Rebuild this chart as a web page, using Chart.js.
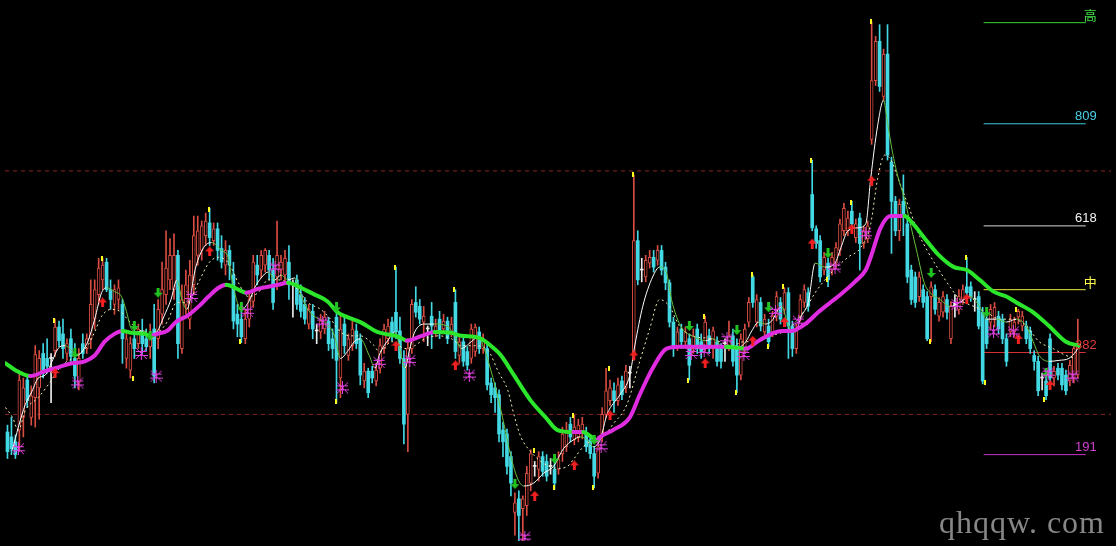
<!DOCTYPE html>
<html>
<head>
<meta charset="utf-8">
<script src="https://cdn.jsdelivr.net/npm/chart.js@4.4.1/dist/chart.umd.min.js"></script>
<style>
  html, body { margin: 0; padding: 0; background: #000; overflow: hidden; }
  canvas { display: block; background: #000; }
</style>
</head>
<body>
<canvas id="kline" width="1116" height="546"></canvas>
<script>
// ─── 행 데이터: 봉 인덱스 0..270 ───
const opens = [
  165,160,155,167,180,218,180,200,210,245,
  240,240,248,272,265,245,260,240,215,255,
  250,260,280,305,320,338,310,295,300,295,
  240,228,260,255,265,260,252,270,260,285,
  305,320,310,345,250,295,280,315,345,350,
  365,378,360,372,352,335,350,325,285,280,
  260,280,298,335,330,335,345,330,323,330,
  325,338,315,320,305,295,275,288,268,267,
  270,278,260,282,220,275,243,253,268,260,
  217,227,227,217,230,250,260,277,287,268,
  240,183,250,297,293,277,270,283,267,280,
  270,278,267,297,243,257,247,240,247,267,
  250,250,215,210,203,167,163,140,83,97,
  87,90,113,130,127,140,135,130,127,127,
  143,150,173,157,160,163,163,157,143,123,
  163,183,197,207,197,217,210,225,243,360,
  330,323,337,343,340,350,333,317,277,253,
  270,257,260,250,270,257,253,263,250,257,
  250,255,253,263,253,223,250,277,323,277,
  297,267,273,267,283,297,290,307,273,250,
  283,297,307,407,372,360,330,337,330,337,
  350,370,370,390,363,383,357,362,463,523,
  563,507,550,440,400,370,400,377,330,323,
  303,310,303,303,310,283,287,300,260,295,
  290,300,313,313,300,303,287,280,277,280,
  283,280,260,267,267,282,273,273,268,243,
  237,220,217,260,220,230,230,223,217,220,
  223
];
const highs = [
  172,180,162,225,220,222,212,253,248,255,
  260,245,280,278,280,260,270,255,250,265,
  265,320,320,342,342,342,320,315,320,300,
  265,262,270,275,280,270,275,295,300,338,
  370,362,367,350,315,330,340,385,385,380,
  388,393,378,378,365,360,355,338,295,295,
  290,308,345,345,350,352,350,342,380,345,
  350,355,320,325,315,302,295,295,275,285,
  288,282,270,290,285,282,265,278,275,265,
  235,230,232,235,260,275,280,282,333,282,
  248,260,300,313,300,293,273,297,280,288,
  285,282,282,310,262,262,252,275,275,272,
  265,255,220,215,208,175,168,145,103,105,
  100,130,147,135,145,145,142,138,135,145,
  170,175,180,182,178,180,170,162,150,160,
  190,230,218,215,220,222,233,232,427,370,
  342,345,350,350,355,355,338,320,282,272,
  275,272,265,270,275,265,283,270,272,262,
  255,260,278,270,260,265,275,302,325,305,
  302,285,280,288,308,302,312,312,278,275,
  305,315,312,442,375,365,348,342,348,358,
  382,398,390,400,382,388,375,380,583,568,
  580,555,580,445,405,402,427,382,335,328,
  328,315,308,318,315,302,308,305,298,305,
  310,315,343,318,308,308,292,285,295,297,
  288,285,265,285,282,290,288,278,272,248,
  242,225,222,265,232,235,235,228,238,255,
  280
];
const lows = [
  138,142,138,145,160,190,172,170,178,220,
  225,195,242,252,240,238,235,210,208,240,
  245,250,270,295,310,308,290,285,290,235,
  230,220,240,250,245,248,240,215,250,275,
  295,310,300,240,245,285,270,305,335,340,
  355,355,355,340,332,325,320,270,262,256,
  255,272,292,315,322,328,320,290,310,320,
  315,300,282,290,282,275,270,260,255,260,
  265,248,240,195,200,245,238,248,250,213,
  210,200,215,212,225,245,255,258,260,235,
  153,145,245,282,275,257,253,250,262,260,
  265,255,262,240,235,232,228,235,242,245,
  245,208,195,185,155,140,122,100,60,54,
  54,80,105,120,115,120,115,122,107,122,
  135,145,155,152,155,158,145,138,108,118,
  155,180,192,185,192,198,205,210,238,315,
  318,318,332,328,335,325,310,272,242,248,
  250,250,218,245,245,240,248,245,240,232,
  230,237,248,232,205,218,245,272,292,272,
  268,262,252,262,278,275,285,240,242,245,
  278,292,288,370,352,318,325,313,325,332,
  345,365,365,372,358,330,352,358,458,518,
  512,502,442,347,365,360,365,317,295,292,
  298,292,258,257,285,278,282,280,255,282,
  285,295,302,298,288,270,214,250,270,272,
  265,255,232,262,262,275,268,255,245,228,
  202,208,198,215,212,218,208,203,212,215,
  220
];
const closes = [
  145,148,142,218,210,197,202,244,240,225,
  232,240,272,258,250,255,242,222,240,245,
  260,295,310,332,335,310,300,310,312,260,
  260,255,250,270,255,252,265,222,290,310,
  332,345,345,255,300,315,325,365,370,375,
  380,363,372,350,338,350,335,278,275,262,
  280,300,338,325,345,350,330,297,345,338,
  342,315,315,295,288,280,290,270,268,278,
  282,255,250,238,270,253,260,270,255,223,
  227,205,220,228,253,270,273,263,267,240,
  173,250,295,287,280,283,270,273,273,267,
  278,260,275,247,257,237,233,270,272,250,
  260,213,203,200,163,155,130,113,93,80,
  97,123,143,130,140,125,120,130,113,137,
  163,167,160,170,172,173,150,143,120,150,
  183,207,210,197,213,203,227,225,360,320,
  330,340,343,333,350,330,317,277,250,267,
  257,267,233,263,250,247,277,250,268,237,
  237,255,263,237,223,260,270,297,297,300,
  273,280,257,283,303,280,307,273,250,270,
  300,310,293,373,357,323,343,320,343,353,
  377,393,383,377,377,357,370,375,523,563,
  517,550,447,400,370,397,387,323,300,297,
  323,297,260,313,290,297,303,287,293,295,
  303,310,307,303,300,273,217,255,290,292,
  270,260,237,280,277,288,283,260,250,237,
  207,220,202,220,227,223,213,207,233,250,
  255
];

// ─── 이동평균선: [봉 위치, 값] ───
const trendMA = [
  [-0.5,235],[2,228],[5.75,222],[9.5,227],[12,230],[16.25,235],[19.5,237],[22,243],[24.5,257],[27,265],
  [29,268],[31.25,266],[34.5,265],[36.25,263],[37.75,265],[40.25,268],[42.75,278],[45.25,283],[48.25,293],[50.75,303],
  [53.25,312],[55.25,315],[58.25,310],[60.25,307],[63.25,311],[65.75,313],[68.25,315],[70.75,317],[72.5,315],[74.5,311],
  [77.5,305],[80.75,298],[83.25,287],[85.75,282],[89,277],[93.25,267],[95.25,265],[98.75,262],[100.75,258],[104.5,263],
  [107.75,267],[112,266],[114.5,263],[117.75,262],[119.5,260],[122.75,250],[124.5,243],[127.75,223],[132,197],[135.75,180],
  [138.75,167],[142.75,165],[145.25,165],[147,161],[148.75,157],[149.5,160],[152.75,167],[157,180],[159.5,203],[162.75,230],
  [166.25,250],[169.5,252],[174.5,252],[181.25,252],[186.25,250],[189.5,258],[195.25,268],[197.75,268],[201.25,275],[204.5,287],
  [209.5,303],[213.75,318],[216.5,330],[217.75,343],[220.25,373],[222.75,385],[226.25,385],[228.25,378],[231.25,363],[234.5,347],
  [238.75,333],[242,330],[245.25,320],[248.75,308],[252,303],[254.5,297],[258.75,287],[262.75,273],[267,257],[270.25,253]
];
const fastMA = [
  [1.25,147],[2.75,170],[4.5,193],[6.25,207],[7.75,220],[9.5,223],[11.25,237],[12.75,250],[14.5,253],[16.25,248],
  [17.5,243],[19,248],[20.25,257],[22,280],[23.75,307],[25,312],[27,308],[28.75,303],[30,288],[31.25,270],
  [32.75,267],[34.5,268],[36.25,260],[37.75,267],[39.5,283],[41.25,300],[42.75,320],[44,300],[45.25,290],[47.5,333],
  [49.5,353],[51.5,358],[54,350],[55.75,342],[56.5,323],[57.75,300],[59,290],[60.75,297],[62.5,313],[64,322],
  [65.75,328],[67.5,320],[69,325],[70.75,320],[72.5,322],[73.75,307],[75.75,290],[77.75,282],[80,277],[82.5,263],
  [84,240],[85.75,247],[87.5,257],[89,260],[91.25,243],[92.75,230],[93.75,243],[96.25,260],[97.75,267],[99.5,240],
  [100.25,230],[101.5,250],[102.75,267],[105.25,275],[107.75,275],[111.25,272],[112.75,263],[114.5,250],[117,257],[118.75,262],
  [120.25,250],[122,227],[123.75,200],[125.25,173],[127,140],[128.75,117],[130.25,110],[132.75,113],[135.25,123],[137.75,130],
  [140.25,148],[142.75,157],[144.5,160],[146.25,157],[147.75,150],[149.5,157],[151.25,183],[154.5,203],[157,223],[158.25,253],
  [160.25,293],[162.75,323],[164.5,333],[166.25,327],[167.5,300],[168.75,283],[170.25,270],[172.75,263],[176.25,258],[177.75,260],
  [181.25,250],[183.75,250],[186.25,257],[187.75,268],[189.5,277],[191.25,275],[192.75,278],[195.25,293],[197,273],[198.75,267],
  [200.25,283],[202,297],[203.75,337],[206.25,333],[208.75,337],[210.25,353],[212,370],[214.5,373],[216.5,377],[217.75,423],
  [219.5,477],[221,503],[222,480],[223.25,450],[224.5,427],[226.25,403],[227.75,377],[229.5,347],[231.25,317],[232.75,307],
  [235.25,300],[237.75,293],[240.25,297],[242.75,303],[245.25,293],[247,280],[249.5,280],[252,277],[254.5,280],[257,273],
  [258.75,257],[260.25,243],[262.75,237],[265.25,238],[267.75,240],[269.5,247],[270.75,255]
];
const slowMA = [
  [-0.5,190],[1.25,180],[2.75,167],[4.5,187],[7.75,200],[10.25,213],[13.75,233],[17.75,243],[20.25,253],[22,267],
  [23.75,283],[26.25,290],[28.75,287],[30.25,280],[32.75,270],[35.25,267],[37.75,267],[40.25,277],[42.75,297],[45.25,297],
  [48.25,318],[50.75,337],[53.25,343],[55.75,337],[58.25,317],[60.75,303],[63.25,307],[65.75,320],[68.25,320],[70.75,317],
  [73.25,310],[75.75,297],[79,290],[81.5,280],[84,267],[86.5,263],[89,263],[92.5,253],[93.75,247],[97,257],
  [100.25,250],[102.75,253],[105.25,260],[108.75,263],[112,260],[114.5,253],[117.75,253],[121.25,248],[123.75,227],[126.25,207],
  [127.75,183],[129.5,160],[132,145],[135.25,133],[138.75,128],[141.25,130],[142.75,137],[145.25,150],[147.75,157],[150.25,160],
  [152.75,173],[156.25,193],[159.5,237],[162,270],[164.5,300],[167,293],[169.5,273],[172.75,263],[177.75,260],[182.75,253],
  [185.75,257],[188.75,257],[192.75,263],[197,270],[201.25,290],[203.75,307],[207.75,327],[212,343],[215.25,353],[217.75,377],
  [219.5,423],[221.25,447],[222.75,443],[225.25,417],[227.75,390],[229.5,370],[232,350],[234.5,333],[237.75,313],[240.25,300],
  [243.75,293],[247,287],[250.25,280],[253.75,280],[257,273],[260.25,257],[263.75,250],[267,243],[269.5,240]
];

// ─── 신호 표시: [봉 위치, 값] ───
const buySignals = [
  [12,225],[24,297],[51,349],[98,253],[113,233],[133,100],[143,131],[152,182],[158,243],
  [176,235],[188,258],[196,277],[203,357],[213,372],[218,421],[242,301],[255,260],[263,213]
];
const sellSignals = [
  [17,245],[32,273],[36,263],[38,307],[59,292],[83,292],[128,112],[138,138],
  [148,157],[172,273],[184,269],[192,292],[207,347],[233,327],[247,287],[262,225]
];
const starSignals = [
  [2.75,148],[17.75,215],[33.75,245],[37.5,222],[46.5,303],[60.5,288],[67.5,333],[79.5,277],[84.5,210],
  [93.75,236],[101.5,238],[116.5,223],[130.5,58],[149.75,150],[172.5,245],[175.75,248],[181.5,260],[185.75,244],
  [193.75,288],[199.5,278],[208.75,333],[216.5,367],[239.5,295],[248.75,267],[253.75,267],[262.5,225],[268.75,222]
];
const extremeMarks = [
  [11.75,279],[23.75,342],[31.75,220],[50.75,392],[58.75,257],[82.75,196],[97.75,333],[112.75,310],[132.75,146],[137.75,108],
  [142.75,182],[147.75,108],[151.75,230],[157.75,427],[171.75,218],[175.75,283],[183.75,205],[187.75,325],[191.75,252],[195.75,313],
  [202.75,442],[206.75,320],[212.75,399],[217.75,583],[232.75,257],[241.75,343],[246.5,215],[254.5,290],[261.5,198]
];

// ─── 황금분할 수준 ───
const fibLabels = ['高', '809', '618', '中', '382', '191'];
const fibLevels = [582, 479, 375, 310, 246, 142];
const fibColors = ['#34d234', '#3cc8dc', '#d8d8d8', '#f0f040', '#d83232', '#c832c8'];
const fibTextColors = ['#44e044', '#48d0e4', '#f4f4f4', '#ffff48', '#e03a3a', '#d040d0'];
const fibStart = 246.25, fibEnd = 272, fibLabelAt = 274.75;
const guideLevels = [431, 183];

// ─── 색상 ───
const UP = '#d84c42', DOWN = '#42d8e4', FLAT = '#ececec';
const TREND_UP = '#e02ce0', TREND_DOWN = '#2ce62c';
const FAST_UP = '#ffffff', FAST_DOWN = '#66c03e';

function candleColor(i) {
  if (closes[i] > opens[i]) return UP;
  if (closes[i] < opens[i]) return DOWN;
  return FLAT;
}

function makeIcon(w, h, draw) {
  const c = document.createElement('canvas');
  c.width = w;
  c.height = h;
  draw(c.getContext('2d'));
  return c;
}

const arrowUp = makeIcon(9, 10, (g) => {
  g.fillStyle = '#f22020';
  g.beginPath(); g.moveTo(4.5, 0); g.lineTo(9, 5); g.lineTo(0, 5); g.closePath(); g.fill();
  g.fillRect(3, 5, 3, 5);
});
const arrowDown = makeIcon(9, 10, (g) => {
  g.fillStyle = '#22c422';
  g.fillRect(3, 0, 3, 5);
  g.beginPath(); g.moveTo(0, 5); g.lineTo(9, 5); g.lineTo(4.5, 10); g.closePath(); g.fill();
});
const starIcon = makeIcon(13, 13, (g) => {
  g.strokeStyle = '#e040e0';
  g.lineWidth = 1;
  g.beginPath();
  g.moveTo(6.5, 0); g.lineTo(6.5, 13);
  g.moveTo(1, 4.5); g.lineTo(12, 4.5);
  g.moveTo(0, 8.5); g.lineTo(13, 8.5);
  g.moveTo(1, 1); g.lineTo(12, 12);
  g.moveTo(12, 1); g.lineTo(1, 12);
  g.stroke();
});
const yellowMark = makeIcon(2, 5, (g) => {
  g.fillStyle = '#ffff20';
  g.fillRect(0, 0, 2, 5);
});

const idx = opens.map((_, i) => i);
const pts = (arr) => arr.map(([x, y]) => ({ x, y }));

function markerSet(arr, icon) {
  return {
    type: 'line',
    data: pts(arr),
    showLine: false,
    pointStyle: icon,
    pointRadius: 4,
    order: 0,
  };
}

const datasets = [
  // 황금분할 선
  ...fibLevels.map((lvl, k) => ({
    type: 'line',
    data: [{ x: fibStart, y: lvl }, { x: fibEnd, y: lvl }],
    borderColor: fibColors[k],
    borderWidth: 1,
    pointRadius: 0,
    order: 20,
  })),
  // 붉은 점선 기준선
  ...guideLevels.map((lvl) => ({
    type: 'line',
    data: [{ x: -0.625, y: lvl }, { x: 278.375, y: lvl }],
    borderColor: '#8e2222',
    borderWidth: 1,
    borderDash: [4, 4],
    pointRadius: 0,
    order: 21,
  })),
  // 꼬리
  {
    type: 'bar',
    data: idx.map((i) => ({ x: i, y: [lows[i], highs[i]] })),
    backgroundColor: (c) => candleColor(c.dataIndex),
    barThickness: 1,
    grouped: false,
    order: 11,
  },
  // 몸통 (양봉은 속이 빈 빨간색)
  {
    type: 'bar',
    data: idx.map((i) => ({ x: i, y: [opens[i], closes[i]] })),
    backgroundColor: (c) => (closes[c.dataIndex] > opens[c.dataIndex] ? '#000000' : candleColor(c.dataIndex)),
    borderColor: (c) => candleColor(c.dataIndex),
    borderWidth: (c) => (closes[c.dataIndex] > opens[c.dataIndex] ? 1 : 0),
    borderSkipped: false,
    barThickness: 3,
    minBarLength: 1,
    grouped: false,
    order: 10,
  },
  // 느린 이동평균 (점선)
  {
    type: 'line',
    data: pts(slowMA),
    borderColor: '#f0f0b4',
    borderWidth: 1,
    borderDash: [2, 3],
    pointRadius: 0,
    cubicInterpolationMode: 'monotone',
    order: 4,
  },
  // 빠른 이동평균
  {
    type: 'line',
    data: pts(fastMA),
    borderWidth: 1,
    pointRadius: 0,
    cubicInterpolationMode: 'monotone',
    segment: { borderColor: (c) => (c.p1.parsed.y >= c.p0.parsed.y ? FAST_UP : FAST_DOWN) },
    order: 3,
  },
  // 추세선 (굵은 선)
  {
    type: 'line',
    data: pts(trendMA),
    borderWidth: 4,
    pointRadius: 0,
    cubicInterpolationMode: 'monotone',
    borderCapStyle: 'round',
    segment: { borderColor: (c) => (c.p1.parsed.y >= c.p0.parsed.y ? TREND_UP : TREND_DOWN) },
    order: 2,
  },
  markerSet(extremeMarks, yellowMark),
  markerSet(starSignals, starIcon),
  markerSet(buySignals, arrowUp),
  markerSet(sellSignals, arrowDown),
];

const labelPlugin = {
  id: 'fibLabels',
  afterDatasetsDraw(chart) {
    const { ctx, scales: { x, y } } = chart;
    ctx.save();
    ctx.textAlign = 'right';
    ctx.textBaseline = 'bottom';
    fibLevels.forEach((lvl, k) => {
      const isCjk = /[^0-9]/.test(fibLabels[k]);
      ctx.font = isCjk ? '13px "Noto Sans CJK SC", sans-serif' : '13px "Liberation Sans", Arial, sans-serif';
      ctx.fillStyle = fibTextColors[k];
      ctx.fillText(fibLabels[k], x.getPixelForValue(fibLabelAt), y.getPixelForValue(lvl) - 1);
    });
    // 워터마크
    ctx.font = '32px "Liberation Serif", "DejaVu Serif", serif';
    ctx.letterSpacing = '1px';
    ctx.fillStyle = 'rgba(150,150,150,0.9)';
    ctx.textBaseline = 'alphabetic';
    ctx.fillText('qhqqw. com', chart.width - 11, chart.height - 13);
    ctx.restore();
  },
};

new Chart(document.getElementById('kline'), {
  type: 'bar',
  data: { datasets },
  options: {
    responsive: false,
    animation: false,
    events: [],
    layout: { padding: 0 },
    plugins: { legend: { display: false }, tooltip: { enabled: false }, title: { display: false } },
    scales: {
      x: { type: 'linear', min: -0.625, max: 278.375, offset: false, display: false },
      y: { type: 'linear', min: 54, max: 600, display: false },
    },
  },
  plugins: [labelPlugin],
});
</script>
</body>
</html>
